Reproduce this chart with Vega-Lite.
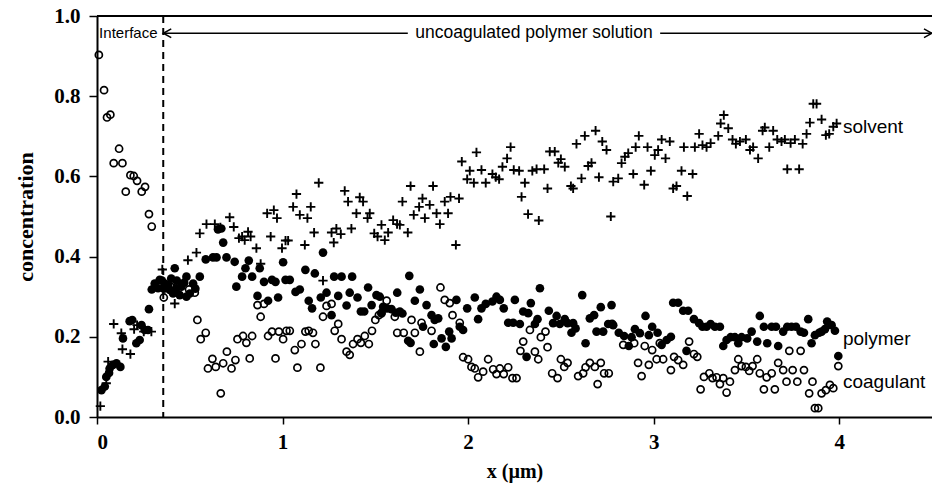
{
  "$schema": "https://vega.github.io/schema/vega-lite/v6.json",
  "width": 835,
  "height": 401,
  "autosize": {"type": "none"},
  "padding": {"left": 97, "top": 16, "right": 0, "bottom": 73},
  "background": "white",
  "config": {
    "view": {"stroke": null},
    "axis": {
      "grid": false,
      "domainColor": "black",
      "domainWidth": 2,
      "tickColor": "black",
      "tickWidth": 1.5,
      "labelColor": "black",
      "titleColor": "black"
    }
  },
  "datasets": {
    "profiles": [
      {"series": "coagulant", "x": 0.01, "y": 0.903}, {"series": "coagulant", "x": 0.038, "y": 0.815}, {"series": "coagulant", "x": 0.054, "y": 0.747}, {"series": "coagulant", "x": 0.072, "y": 0.754},
      {"series": "coagulant", "x": 0.119, "y": 0.669}, {"series": "coagulant", "x": 0.09, "y": 0.633}, {"series": "coagulant", "x": 0.137, "y": 0.633}, {"series": "coagulant", "x": 0.18, "y": 0.603},
      {"series": "coagulant", "x": 0.198, "y": 0.601}, {"series": "coagulant", "x": 0.216, "y": 0.589}, {"series": "coagulant", "x": 0.155, "y": 0.562}, {"series": "coagulant", "x": 0.241, "y": 0.562},
      {"series": "coagulant", "x": 0.259, "y": 0.574}, {"series": "coagulant", "x": 0.28, "y": 0.506}, {"series": "coagulant", "x": 0.295, "y": 0.475}, {"series": "coagulant", "x": 0.36, "y": 0.298},
      {"series": "coagulant", "x": 0.397, "y": 0.325}, {"series": "coagulant", "x": 0.431, "y": 0.325}, {"series": "coagulant", "x": 0.496, "y": 0.318}, {"series": "coagulant", "x": 0.527, "y": 0.31},
      {"series": "coagulant", "x": 0.541, "y": 0.242}, {"series": "coagulant", "x": 0.586, "y": 0.21}, {"series": "coagulant", "x": 0.559, "y": 0.194}, {"series": "coagulant", "x": 0.7, "y": 0.163},
      {"series": "coagulant", "x": 0.622, "y": 0.145}, {"series": "coagulant", "x": 0.598, "y": 0.121}, {"series": "coagulant", "x": 0.64, "y": 0.125}, {"series": "coagulant", "x": 0.68, "y": 0.134},
      {"series": "coagulant", "x": 0.725, "y": 0.121}, {"series": "coagulant", "x": 0.746, "y": 0.142}, {"series": "coagulant", "x": 0.667, "y": 0.059}, {"series": "coagulant", "x": 0.757, "y": 0.194},
      {"series": "coagulant", "x": 0.865, "y": 0.279}, {"series": "coagulant", "x": 0.9, "y": 0.282}, {"series": "coagulant", "x": 0.882, "y": 0.25}, {"series": "coagulant", "x": 0.823, "y": 0.146},
      {"series": "coagulant", "x": 0.962, "y": 0.146}, {"series": "coagulant", "x": 0.787, "y": 0.202}, {"series": "coagulant", "x": 0.805, "y": 0.185}, {"series": "coagulant", "x": 0.836, "y": 0.202},
      {"series": "coagulant", "x": 0.922, "y": 0.202}, {"series": "coagulant", "x": 0.943, "y": 0.213}, {"series": "coagulant", "x": 0.98, "y": 0.213}, {"series": "coagulant", "x": 1.003, "y": 0.194},
      {"series": "coagulant", "x": 1.021, "y": 0.215}, {"series": "coagulant", "x": 1.039, "y": 0.215}, {"series": "coagulant", "x": 1.066, "y": 0.167}, {"series": "coagulant", "x": 1.102, "y": 0.182},
      {"series": "coagulant", "x": 1.123, "y": 0.213}, {"series": "coagulant", "x": 1.141, "y": 0.215}, {"series": "coagulant", "x": 1.164, "y": 0.21}, {"series": "coagulant", "x": 1.177, "y": 0.182},
      {"series": "coagulant", "x": 1.08, "y": 0.123}, {"series": "coagulant", "x": 1.204, "y": 0.123}, {"series": "coagulant", "x": 1.237, "y": 0.277}, {"series": "coagulant", "x": 1.264, "y": 0.282},
      {"series": "coagulant", "x": 1.218, "y": 0.25}, {"series": "coagulant", "x": 1.3, "y": 0.232}, {"series": "coagulant", "x": 1.281, "y": 0.215}, {"series": "coagulant", "x": 1.318, "y": 0.194},
      {"series": "coagulant", "x": 1.345, "y": 0.163}, {"series": "coagulant", "x": 1.362, "y": 0.155}, {"series": "coagulant", "x": 1.38, "y": 0.182}, {"series": "coagulant", "x": 1.404, "y": 0.194},
      {"series": "coagulant", "x": 1.422, "y": 0.185}, {"series": "coagulant", "x": 1.443, "y": 0.202}, {"series": "coagulant", "x": 1.465, "y": 0.182}, {"series": "coagulant", "x": 1.482, "y": 0.215},
      {"series": "coagulant", "x": 1.5, "y": 0.242}, {"series": "coagulant", "x": 1.519, "y": 0.254}, {"series": "coagulant", "x": 1.533, "y": 0.26}, {"series": "coagulant", "x": 1.561, "y": 0.29},
      {"series": "coagulant", "x": 1.605, "y": 0.25}, {"series": "coagulant", "x": 1.618, "y": 0.21}, {"series": "coagulant", "x": 1.653, "y": 0.21}, {"series": "coagulant", "x": 1.695, "y": 0.242},
      {"series": "coagulant", "x": 1.713, "y": 0.21}, {"series": "coagulant", "x": 1.749, "y": 0.235}, {"series": "coagulant", "x": 1.803, "y": 0.215}, {"series": "coagulant", "x": 1.74, "y": 0.163},
      {"series": "coagulant", "x": 1.851, "y": 0.323}, {"series": "coagulant", "x": 1.874, "y": 0.292}, {"series": "coagulant", "x": 1.901, "y": 0.284}, {"series": "coagulant", "x": 1.916, "y": 0.254},
      {"series": "coagulant", "x": 1.955, "y": 0.235}, {"series": "coagulant", "x": 1.973, "y": 0.149}, {"series": "coagulant", "x": 2.0, "y": 0.144}, {"series": "coagulant", "x": 2.018, "y": 0.125},
      {"series": "coagulant", "x": 2.036, "y": 0.121}, {"series": "coagulant", "x": 2.054, "y": 0.099}, {"series": "coagulant", "x": 2.081, "y": 0.113}, {"series": "coagulant", "x": 2.108, "y": 0.144},
      {"series": "coagulant", "x": 2.135, "y": 0.119}, {"series": "coagulant", "x": 2.153, "y": 0.107}, {"series": "coagulant", "x": 2.171, "y": 0.121}, {"series": "coagulant", "x": 2.192, "y": 0.107},
      {"series": "coagulant", "x": 2.216, "y": 0.124}, {"series": "coagulant", "x": 2.239, "y": 0.097}, {"series": "coagulant", "x": 2.261, "y": 0.097}, {"series": "coagulant", "x": 2.297, "y": 0.188},
      {"series": "coagulant", "x": 2.282, "y": 0.165}, {"series": "coagulant", "x": 2.333, "y": 0.217}, {"series": "coagulant", "x": 2.392, "y": 0.199}, {"series": "coagulant", "x": 2.417, "y": 0.213},
      {"series": "coagulant", "x": 2.36, "y": 0.163}, {"series": "coagulant", "x": 2.378, "y": 0.144}, {"series": "coagulant", "x": 2.428, "y": 0.174}, {"series": "coagulant", "x": 2.453, "y": 0.109},
      {"series": "coagulant", "x": 2.482, "y": 0.097}, {"series": "coagulant", "x": 2.5, "y": 0.144}, {"series": "coagulant", "x": 2.518, "y": 0.125}, {"series": "coagulant", "x": 2.536, "y": 0.135},
      {"series": "coagulant", "x": 2.593, "y": 0.102}, {"series": "coagulant", "x": 2.62, "y": 0.109}, {"series": "coagulant", "x": 2.633, "y": 0.124}, {"series": "coagulant", "x": 2.656, "y": 0.135},
      {"series": "coagulant", "x": 2.683, "y": 0.125}, {"series": "coagulant", "x": 2.715, "y": 0.135}, {"series": "coagulant", "x": 2.698, "y": 0.082}, {"series": "coagulant", "x": 2.733, "y": 0.109},
      {"series": "coagulant", "x": 2.758, "y": 0.109}, {"series": "coagulant", "x": 2.776, "y": 0.232}, {"series": "coagulant", "x": 2.836, "y": 0.18}, {"series": "coagulant", "x": 2.895, "y": 0.184},
      {"series": "coagulant", "x": 2.916, "y": 0.135}, {"series": "coagulant", "x": 2.935, "y": 0.102}, {"series": "coagulant", "x": 2.952, "y": 0.177}, {"series": "coagulant", "x": 2.974, "y": 0.13},
      {"series": "coagulant", "x": 2.992, "y": 0.167}, {"series": "coagulant", "x": 3.016, "y": 0.144}, {"series": "coagulant", "x": 3.033, "y": 0.184}, {"series": "coagulant", "x": 3.051, "y": 0.144},
      {"series": "coagulant", "x": 3.093, "y": 0.117}, {"series": "coagulant", "x": 3.11, "y": 0.15}, {"series": "coagulant", "x": 3.132, "y": 0.142}, {"series": "coagulant", "x": 3.159, "y": 0.13},
      {"series": "coagulant", "x": 3.191, "y": 0.188}, {"series": "coagulant", "x": 3.217, "y": 0.157}, {"series": "coagulant", "x": 3.235, "y": 0.15}, {"series": "coagulant", "x": 3.253, "y": 0.069},
      {"series": "coagulant", "x": 3.271, "y": 0.1}, {"series": "coagulant", "x": 3.3, "y": 0.109}, {"series": "coagulant", "x": 3.317, "y": 0.097}, {"series": "coagulant", "x": 3.339, "y": 0.099},
      {"series": "coagulant", "x": 3.357, "y": 0.082}, {"series": "coagulant", "x": 3.375, "y": 0.097}, {"series": "coagulant", "x": 3.393, "y": 0.061}, {"series": "coagulant", "x": 3.411, "y": 0.088},
      {"series": "coagulant", "x": 3.438, "y": 0.117}, {"series": "coagulant", "x": 3.456, "y": 0.144}, {"series": "coagulant", "x": 3.474, "y": 0.127}, {"series": "coagulant", "x": 3.497, "y": 0.125},
      {"series": "coagulant", "x": 3.515, "y": 0.115}, {"series": "coagulant", "x": 3.533, "y": 0.127}, {"series": "coagulant", "x": 3.558, "y": 0.144}, {"series": "coagulant", "x": 3.572, "y": 0.109},
      {"series": "coagulant", "x": 3.594, "y": 0.069}, {"series": "coagulant", "x": 3.609, "y": 0.099}, {"series": "coagulant", "x": 3.636, "y": 0.109}, {"series": "coagulant", "x": 3.653, "y": 0.069},
      {"series": "coagulant", "x": 3.671, "y": 0.135}, {"series": "coagulant", "x": 3.698, "y": 0.117}, {"series": "coagulant", "x": 3.716, "y": 0.088}, {"series": "coagulant", "x": 3.731, "y": 0.165},
      {"series": "coagulant", "x": 3.749, "y": 0.117}, {"series": "coagulant", "x": 3.774, "y": 0.088}, {"series": "coagulant", "x": 3.792, "y": 0.165}, {"series": "coagulant", "x": 3.81, "y": 0.117},
      {"series": "coagulant", "x": 3.838, "y": 0.059}, {"series": "coagulant", "x": 3.856, "y": 0.088}, {"series": "coagulant", "x": 3.869, "y": 0.022}, {"series": "coagulant", "x": 3.887, "y": 0.022},
      {"series": "coagulant", "x": 3.905, "y": 0.059}, {"series": "coagulant", "x": 3.928, "y": 0.067}, {"series": "coagulant", "x": 3.95, "y": 0.08}, {"series": "coagulant", "x": 3.968, "y": 0.072},
      {"series": "coagulant", "x": 3.995, "y": 0.127},

      {"series": "polymer", "x": 0.024, "y": 0.067}, {"series": "polymer", "x": 0.042, "y": 0.076}, {"series": "polymer", "x": 0.05, "y": 0.1}, {"series": "polymer", "x": 0.065, "y": 0.11},
      {"series": "polymer", "x": 0.068, "y": 0.121}, {"series": "polymer", "x": 0.086, "y": 0.13}, {"series": "polymer", "x": 0.105, "y": 0.134}, {"series": "polymer", "x": 0.126, "y": 0.125},
      {"series": "polymer", "x": 0.14, "y": 0.196}, {"series": "polymer", "x": 0.176, "y": 0.239}, {"series": "polymer", "x": 0.19, "y": 0.242}, {"series": "polymer", "x": 0.212, "y": 0.184},
      {"series": "polymer", "x": 0.23, "y": 0.192}, {"series": "polymer", "x": 0.24, "y": 0.229}, {"series": "polymer", "x": 0.257, "y": 0.217}, {"series": "polymer", "x": 0.275, "y": 0.217},
      {"series": "polymer", "x": 0.28, "y": 0.269}, {"series": "polymer", "x": 0.295, "y": 0.318}, {"series": "polymer", "x": 0.311, "y": 0.333}, {"series": "polymer", "x": 0.338, "y": 0.342},
      {"series": "polymer", "x": 0.329, "y": 0.321}, {"series": "polymer", "x": 0.365, "y": 0.333}, {"series": "polymer", "x": 0.383, "y": 0.329}, {"series": "polymer", "x": 0.419, "y": 0.371},
      {"series": "polymer", "x": 0.392, "y": 0.317}, {"series": "polymer", "x": 0.428, "y": 0.321}, {"series": "polymer", "x": 0.455, "y": 0.325}, {"series": "polymer", "x": 0.482, "y": 0.35},
      {"series": "polymer", "x": 0.5, "y": 0.308}, {"series": "polymer", "x": 0.518, "y": 0.333}, {"series": "polymer", "x": 0.554, "y": 0.35}, {"series": "polymer", "x": 0.41, "y": 0.308},
      {"series": "polymer", "x": 0.446, "y": 0.304}, {"series": "polymer", "x": 0.482, "y": 0.3}, {"series": "polymer", "x": 0.35, "y": 0.34}, {"series": "polymer", "x": 0.4, "y": 0.345},
      {"series": "polymer", "x": 0.47, "y": 0.335}, {"series": "polymer", "x": 0.53, "y": 0.32}, {"series": "polymer", "x": 0.43, "y": 0.34}, {"series": "polymer", "x": 0.36, "y": 0.32},
      {"series": "polymer", "x": 0.586, "y": 0.393}, {"series": "polymer", "x": 0.625, "y": 0.398}, {"series": "polymer", "x": 0.644, "y": 0.398}, {"series": "polymer", "x": 0.652, "y": 0.468},
      {"series": "polymer", "x": 0.67, "y": 0.47}, {"series": "polymer", "x": 0.68, "y": 0.435}, {"series": "polymer", "x": 0.698, "y": 0.398}, {"series": "polymer", "x": 0.742, "y": 0.387},
      {"series": "polymer", "x": 0.751, "y": 0.325}, {"series": "polymer", "x": 0.818, "y": 0.39}, {"series": "polymer", "x": 0.8, "y": 0.371}, {"series": "polymer", "x": 0.782, "y": 0.35},
      {"series": "polymer", "x": 0.836, "y": 0.35}, {"series": "polymer", "x": 0.877, "y": 0.371}, {"series": "polymer", "x": 0.9, "y": 0.337}, {"series": "polymer", "x": 0.943, "y": 0.342},
      {"series": "polymer", "x": 0.962, "y": 0.337}, {"series": "polymer", "x": 1.003, "y": 0.386}, {"series": "polymer", "x": 0.865, "y": 0.302}, {"series": "polymer", "x": 0.922, "y": 0.29},
      {"series": "polymer", "x": 0.976, "y": 0.298}, {"series": "polymer", "x": 1.016, "y": 0.342}, {"series": "polymer", "x": 1.039, "y": 0.342}, {"series": "polymer", "x": 1.07, "y": 0.312},
      {"series": "polymer", "x": 1.093, "y": 0.318}, {"series": "polymer", "x": 1.123, "y": 0.367}, {"series": "polymer", "x": 1.174, "y": 0.358}, {"series": "polymer", "x": 1.218, "y": 0.41},
      {"series": "polymer", "x": 1.141, "y": 0.29}, {"series": "polymer", "x": 1.159, "y": 0.271}, {"series": "polymer", "x": 1.206, "y": 0.298}, {"series": "polymer", "x": 1.237, "y": 0.31},
      {"series": "polymer", "x": 1.264, "y": 0.254}, {"series": "polymer", "x": 1.278, "y": 0.35}, {"series": "polymer", "x": 1.318, "y": 0.35}, {"series": "polymer", "x": 1.3, "y": 0.302},
      {"series": "polymer", "x": 1.345, "y": 0.278}, {"series": "polymer", "x": 1.362, "y": 0.31}, {"series": "polymer", "x": 1.404, "y": 0.298}, {"series": "polymer", "x": 1.375, "y": 0.35},
      {"series": "polymer", "x": 1.422, "y": 0.263}, {"series": "polymer", "x": 1.44, "y": 0.263}, {"series": "polymer", "x": 1.461, "y": 0.323}, {"series": "polymer", "x": 1.48, "y": 0.279},
      {"series": "polymer", "x": 1.506, "y": 0.304}, {"series": "polymer", "x": 1.524, "y": 0.3}, {"series": "polymer", "x": 1.542, "y": 0.275}, {"series": "polymer", "x": 1.563, "y": 0.271},
      {"series": "polymer", "x": 1.587, "y": 0.269}, {"series": "polymer", "x": 1.61, "y": 0.26}, {"series": "polymer", "x": 1.632, "y": 0.263}, {"series": "polymer", "x": 1.646, "y": 0.258},
      {"series": "polymer", "x": 1.533, "y": 0.258}, {"series": "polymer", "x": 1.618, "y": 0.31}, {"series": "polymer", "x": 1.683, "y": 0.352}, {"series": "polymer", "x": 1.713, "y": 0.29},
      {"series": "polymer", "x": 1.74, "y": 0.318}, {"series": "polymer", "x": 1.776, "y": 0.279}, {"series": "polymer", "x": 1.69, "y": 0.185}, {"series": "polymer", "x": 1.677, "y": 0.19},
      {"series": "polymer", "x": 1.757, "y": 0.225}, {"series": "polymer", "x": 1.803, "y": 0.254}, {"series": "polymer", "x": 1.82, "y": 0.242}, {"series": "polymer", "x": 1.839, "y": 0.246},
      {"series": "polymer", "x": 1.815, "y": 0.182}, {"series": "polymer", "x": 1.857, "y": 0.196}, {"series": "polymer", "x": 1.88, "y": 0.175}, {"series": "polymer", "x": 1.898, "y": 0.213},
      {"series": "polymer", "x": 1.911, "y": 0.196}, {"series": "polymer", "x": 1.937, "y": 0.292}, {"series": "polymer", "x": 1.955, "y": 0.225}, {"series": "polymer", "x": 1.973, "y": 0.217},
      {"series": "polymer", "x": 1.995, "y": 0.271}, {"series": "polymer", "x": 2.036, "y": 0.298}, {"series": "polymer", "x": 2.054, "y": 0.244}, {"series": "polymer", "x": 2.072, "y": 0.271},
      {"series": "polymer", "x": 2.095, "y": 0.282}, {"series": "polymer", "x": 2.131, "y": 0.288}, {"series": "polymer", "x": 2.153, "y": 0.3}, {"series": "polymer", "x": 2.171, "y": 0.292},
      {"series": "polymer", "x": 2.192, "y": 0.271}, {"series": "polymer", "x": 2.216, "y": 0.235}, {"series": "polymer", "x": 2.243, "y": 0.235}, {"series": "polymer", "x": 2.279, "y": 0.232},
      {"series": "polymer", "x": 2.252, "y": 0.292}, {"series": "polymer", "x": 2.297, "y": 0.263}, {"series": "polymer", "x": 2.315, "y": 0.15}, {"series": "polymer", "x": 2.338, "y": 0.284},
      {"series": "polymer", "x": 2.387, "y": 0.321}, {"series": "polymer", "x": 2.324, "y": 0.259}, {"series": "polymer", "x": 2.374, "y": 0.244}, {"series": "polymer", "x": 2.36, "y": 0.232},
      {"series": "polymer", "x": 2.435, "y": 0.265}, {"series": "polymer", "x": 2.477, "y": 0.252}, {"series": "polymer", "x": 2.458, "y": 0.234}, {"series": "polymer", "x": 2.494, "y": 0.232},
      {"series": "polymer", "x": 2.521, "y": 0.244}, {"series": "polymer", "x": 2.536, "y": 0.234}, {"series": "polymer", "x": 2.566, "y": 0.234}, {"series": "polymer", "x": 2.579, "y": 0.221},
      {"series": "polymer", "x": 2.557, "y": 0.21}, {"series": "polymer", "x": 2.615, "y": 0.304}, {"series": "polymer", "x": 2.656, "y": 0.246}, {"series": "polymer", "x": 2.679, "y": 0.254},
      {"series": "polymer", "x": 2.715, "y": 0.274}, {"series": "polymer", "x": 2.633, "y": 0.184}, {"series": "polymer", "x": 2.692, "y": 0.213}, {"series": "polymer", "x": 2.728, "y": 0.213},
      {"series": "polymer", "x": 2.773, "y": 0.279}, {"series": "polymer", "x": 2.755, "y": 0.232}, {"series": "polymer", "x": 2.782, "y": 0.229}, {"series": "polymer", "x": 2.812, "y": 0.21},
      {"series": "polymer", "x": 2.841, "y": 0.202}, {"series": "polymer", "x": 2.866, "y": 0.177}, {"series": "polymer", "x": 2.881, "y": 0.199}, {"series": "polymer", "x": 2.899, "y": 0.219},
      {"series": "polymer", "x": 2.926, "y": 0.209}, {"series": "polymer", "x": 2.956, "y": 0.252}, {"series": "polymer", "x": 2.974, "y": 0.204}, {"series": "polymer", "x": 2.992, "y": 0.225},
      {"series": "polymer", "x": 3.021, "y": 0.21}, {"series": "polymer", "x": 3.043, "y": 0.18}, {"series": "polymer", "x": 3.07, "y": 0.192}, {"series": "polymer", "x": 3.093, "y": 0.2},
      {"series": "polymer", "x": 3.105, "y": 0.285}, {"series": "polymer", "x": 3.132, "y": 0.285}, {"series": "polymer", "x": 3.159, "y": 0.265}, {"series": "polymer", "x": 3.186, "y": 0.265},
      {"series": "polymer", "x": 3.217, "y": 0.244}, {"series": "polymer", "x": 3.245, "y": 0.234}, {"series": "polymer", "x": 3.263, "y": 0.225}, {"series": "polymer", "x": 3.285, "y": 0.225},
      {"series": "polymer", "x": 3.307, "y": 0.232}, {"series": "polymer", "x": 3.33, "y": 0.225}, {"series": "polymer", "x": 3.357, "y": 0.225}, {"series": "polymer", "x": 3.375, "y": 0.177},
      {"series": "polymer", "x": 3.393, "y": 0.192}, {"series": "polymer", "x": 3.415, "y": 0.199}, {"series": "polymer", "x": 3.438, "y": 0.199}, {"series": "polymer", "x": 3.456, "y": 0.184},
      {"series": "polymer", "x": 3.474, "y": 0.199}, {"series": "polymer", "x": 3.504, "y": 0.196}, {"series": "polymer", "x": 3.528, "y": 0.213}, {"series": "polymer", "x": 3.558, "y": 0.188},
      {"series": "polymer", "x": 3.572, "y": 0.252}, {"series": "polymer", "x": 3.594, "y": 0.225}, {"series": "polymer", "x": 3.612, "y": 0.184}, {"series": "polymer", "x": 3.636, "y": 0.225},
      {"series": "polymer", "x": 3.659, "y": 0.225}, {"series": "polymer", "x": 3.671, "y": 0.177}, {"series": "polymer", "x": 3.698, "y": 0.213}, {"series": "polymer", "x": 3.72, "y": 0.225},
      {"series": "polymer", "x": 3.743, "y": 0.225}, {"series": "polymer", "x": 3.767, "y": 0.225}, {"series": "polymer", "x": 3.792, "y": 0.213}, {"series": "polymer", "x": 3.81, "y": 0.21},
      {"series": "polymer", "x": 3.833, "y": 0.244}, {"series": "polymer", "x": 3.851, "y": 0.184}, {"series": "polymer", "x": 3.869, "y": 0.204}, {"series": "polymer", "x": 3.892, "y": 0.21},
      {"series": "polymer", "x": 3.177, "y": 0.165}, {"series": "polymer", "x": 3.905, "y": 0.213}, {"series": "polymer", "x": 3.923, "y": 0.219}, {"series": "polymer", "x": 3.935, "y": 0.238},
      {"series": "polymer", "x": 3.959, "y": 0.229}, {"series": "polymer", "x": 3.977, "y": 0.215}, {"series": "polymer", "x": 3.995, "y": 0.152},

      {"series": "solvent", "x": 0.018, "y": 0.027}, {"series": "solvent", "x": 0.05, "y": 0.084}, {"series": "solvent", "x": 0.06, "y": 0.138}, {"series": "solvent", "x": 0.09, "y": 0.232},
      {"series": "solvent", "x": 0.131, "y": 0.209}, {"series": "solvent", "x": 0.137, "y": 0.169}, {"series": "solvent", "x": 0.18, "y": 0.157}, {"series": "solvent", "x": 0.2, "y": 0.219},
      {"series": "solvent", "x": 0.216, "y": 0.229}, {"series": "solvent", "x": 0.252, "y": 0.213}, {"series": "solvent", "x": 0.293, "y": 0.213}, {"series": "solvent", "x": 0.352, "y": 0.368},
      {"series": "solvent", "x": 0.419, "y": 0.283}, {"series": "solvent", "x": 0.49, "y": 0.391}, {"series": "solvent", "x": 0.536, "y": 0.41}, {"series": "solvent", "x": 0.554, "y": 0.458},
      {"series": "solvent", "x": 0.59, "y": 0.481}, {"series": "solvent", "x": 0.635, "y": 0.481}, {"series": "solvent", "x": 0.665, "y": 0.473}, {"series": "solvent", "x": 0.715, "y": 0.498},
      {"series": "solvent", "x": 0.737, "y": 0.474}, {"series": "solvent", "x": 0.765, "y": 0.446}, {"series": "solvent", "x": 0.782, "y": 0.45}, {"series": "solvent", "x": 0.814, "y": 0.462},
      {"series": "solvent", "x": 0.828, "y": 0.45}, {"series": "solvent", "x": 0.796, "y": 0.441}, {"series": "solvent", "x": 0.859, "y": 0.421}, {"series": "solvent", "x": 0.882, "y": 0.382},
      {"series": "solvent", "x": 0.917, "y": 0.508}, {"series": "solvent", "x": 0.953, "y": 0.516}, {"series": "solvent", "x": 0.97, "y": 0.496}, {"series": "solvent", "x": 0.936, "y": 0.45},
      {"series": "solvent", "x": 0.997, "y": 0.421}, {"series": "solvent", "x": 1.016, "y": 0.44}, {"series": "solvent", "x": 1.03, "y": 0.44}, {"series": "solvent", "x": 1.057, "y": 0.524},
      {"series": "solvent", "x": 1.075, "y": 0.556}, {"series": "solvent", "x": 1.093, "y": 0.504}, {"series": "solvent", "x": 1.134, "y": 0.496}, {"series": "solvent", "x": 1.152, "y": 0.524},
      {"series": "solvent", "x": 1.12, "y": 0.429}, {"series": "solvent", "x": 1.17, "y": 0.46}, {"series": "solvent", "x": 1.195, "y": 0.584}, {"series": "solvent", "x": 1.218, "y": 0.34},
      {"series": "solvent", "x": 1.264, "y": 0.46}, {"series": "solvent", "x": 1.29, "y": 0.47}, {"series": "solvent", "x": 1.314, "y": 0.456}, {"series": "solvent", "x": 1.276, "y": 0.435},
      {"series": "solvent", "x": 1.335, "y": 0.564}, {"series": "solvent", "x": 1.353, "y": 0.537}, {"series": "solvent", "x": 1.371, "y": 0.47}, {"series": "solvent", "x": 1.398, "y": 0.508},
      {"series": "solvent", "x": 1.416, "y": 0.548}, {"series": "solvent", "x": 1.434, "y": 0.537}, {"series": "solvent", "x": 1.458, "y": 0.496}, {"series": "solvent", "x": 1.47, "y": 0.508},
      {"series": "solvent", "x": 1.494, "y": 0.458}, {"series": "solvent", "x": 1.512, "y": 0.45}, {"series": "solvent", "x": 1.533, "y": 0.479}, {"series": "solvent", "x": 1.551, "y": 0.441},
      {"series": "solvent", "x": 1.569, "y": 0.46}, {"series": "solvent", "x": 1.596, "y": 0.491}, {"series": "solvent", "x": 1.617, "y": 0.481}, {"series": "solvent", "x": 1.632, "y": 0.479},
      {"series": "solvent", "x": 1.646, "y": 0.537}, {"series": "solvent", "x": 1.69, "y": 0.576}, {"series": "solvent", "x": 1.675, "y": 0.46}, {"series": "solvent", "x": 1.707, "y": 0.504},
      {"series": "solvent", "x": 1.736, "y": 0.524}, {"series": "solvent", "x": 1.754, "y": 0.545}, {"series": "solvent", "x": 1.767, "y": 0.496}, {"series": "solvent", "x": 1.793, "y": 0.529},
      {"series": "solvent", "x": 1.811, "y": 0.576}, {"series": "solvent", "x": 1.83, "y": 0.508}, {"series": "solvent", "x": 1.848, "y": 0.481}, {"series": "solvent", "x": 1.874, "y": 0.537},
      {"series": "solvent", "x": 1.892, "y": 0.508}, {"series": "solvent", "x": 1.905, "y": 0.549}, {"series": "solvent", "x": 1.951, "y": 0.545}, {"series": "solvent", "x": 1.934, "y": 0.429},
      {"series": "solvent", "x": 1.966, "y": 0.637}, {"series": "solvent", "x": 1.995, "y": 0.593}, {"series": "solvent", "x": 2.009, "y": 0.614}, {"series": "solvent", "x": 2.031, "y": 0.584},
      {"series": "solvent", "x": 2.045, "y": 0.66}, {"series": "solvent", "x": 2.072, "y": 0.616}, {"series": "solvent", "x": 2.095, "y": 0.584}, {"series": "solvent", "x": 2.131, "y": 0.606},
      {"series": "solvent", "x": 2.149, "y": 0.598}, {"series": "solvent", "x": 2.167, "y": 0.593}, {"series": "solvent", "x": 2.185, "y": 0.624}, {"series": "solvent", "x": 2.21, "y": 0.645},
      {"series": "solvent", "x": 2.229, "y": 0.673}, {"series": "solvent", "x": 2.246, "y": 0.616}, {"series": "solvent", "x": 2.275, "y": 0.614}, {"series": "solvent", "x": 2.306, "y": 0.584},
      {"series": "solvent", "x": 2.288, "y": 0.549}, {"series": "solvent", "x": 2.323, "y": 0.506}, {"series": "solvent", "x": 2.381, "y": 0.49}, {"series": "solvent", "x": 2.346, "y": 0.614},
      {"series": "solvent", "x": 2.369, "y": 0.618}, {"series": "solvent", "x": 2.41, "y": 0.618}, {"series": "solvent", "x": 2.428, "y": 0.57}, {"series": "solvent", "x": 2.44, "y": 0.662},
      {"series": "solvent", "x": 2.467, "y": 0.662}, {"series": "solvent", "x": 2.486, "y": 0.634}, {"series": "solvent", "x": 2.5, "y": 0.643}, {"series": "solvent", "x": 2.521, "y": 0.624},
      {"series": "solvent", "x": 2.554, "y": 0.576}, {"series": "solvent", "x": 2.566, "y": 0.57}, {"series": "solvent", "x": 2.584, "y": 0.681}, {"series": "solvent", "x": 2.611, "y": 0.595},
      {"series": "solvent", "x": 2.629, "y": 0.701}, {"series": "solvent", "x": 2.647, "y": 0.626}, {"series": "solvent", "x": 2.665, "y": 0.634}, {"series": "solvent", "x": 2.687, "y": 0.714},
      {"series": "solvent", "x": 2.705, "y": 0.598}, {"series": "solvent", "x": 2.723, "y": 0.687}, {"series": "solvent", "x": 2.746, "y": 0.666}, {"series": "solvent", "x": 2.769, "y": 0.5},
      {"series": "solvent", "x": 2.782, "y": 0.587}, {"series": "solvent", "x": 2.809, "y": 0.595}, {"series": "solvent", "x": 2.827, "y": 0.633}, {"series": "solvent", "x": 2.845, "y": 0.649},
      {"series": "solvent", "x": 2.863, "y": 0.658}, {"series": "solvent", "x": 2.89, "y": 0.606}, {"series": "solvent", "x": 2.903, "y": 0.673}, {"series": "solvent", "x": 2.92, "y": 0.701},
      {"series": "solvent", "x": 2.949, "y": 0.579}, {"series": "solvent", "x": 2.967, "y": 0.673}, {"series": "solvent", "x": 2.985, "y": 0.614}, {"series": "solvent", "x": 3.006, "y": 0.653},
      {"series": "solvent", "x": 3.024, "y": 0.666}, {"series": "solvent", "x": 3.043, "y": 0.692}, {"series": "solvent", "x": 3.064, "y": 0.645}, {"series": "solvent", "x": 3.087, "y": 0.687},
      {"series": "solvent", "x": 3.105, "y": 0.57}, {"series": "solvent", "x": 3.123, "y": 0.576}, {"series": "solvent", "x": 3.15, "y": 0.614}, {"series": "solvent", "x": 3.181, "y": 0.551},
      {"series": "solvent", "x": 3.21, "y": 0.606}, {"series": "solvent", "x": 3.163, "y": 0.673}, {"series": "solvent", "x": 3.222, "y": 0.673}, {"series": "solvent", "x": 3.245, "y": 0.706},
      {"series": "solvent", "x": 3.263, "y": 0.678}, {"series": "solvent", "x": 3.285, "y": 0.673}, {"series": "solvent", "x": 3.307, "y": 0.683}, {"series": "solvent", "x": 3.348, "y": 0.701},
      {"series": "solvent", "x": 3.361, "y": 0.732}, {"series": "solvent", "x": 3.378, "y": 0.753}, {"series": "solvent", "x": 3.402, "y": 0.72}, {"series": "solvent", "x": 3.425, "y": 0.692},
      {"series": "solvent", "x": 3.443, "y": 0.681}, {"series": "solvent", "x": 3.465, "y": 0.687}, {"series": "solvent", "x": 3.497, "y": 0.692}, {"series": "solvent", "x": 3.519, "y": 0.666},
      {"series": "solvent", "x": 3.536, "y": 0.673}, {"series": "solvent", "x": 3.563, "y": 0.645}, {"series": "solvent", "x": 3.587, "y": 0.714}, {"series": "solvent", "x": 3.599, "y": 0.722},
      {"series": "solvent", "x": 3.623, "y": 0.673}, {"series": "solvent", "x": 3.644, "y": 0.714}, {"series": "solvent", "x": 3.666, "y": 0.692}, {"series": "solvent", "x": 3.689, "y": 0.687},
      {"series": "solvent", "x": 3.707, "y": 0.692}, {"series": "solvent", "x": 3.72, "y": 0.618}, {"series": "solvent", "x": 3.738, "y": 0.683}, {"series": "solvent", "x": 3.761, "y": 0.692},
      {"series": "solvent", "x": 3.784, "y": 0.618}, {"series": "solvent", "x": 3.803, "y": 0.681}, {"series": "solvent", "x": 3.824, "y": 0.706}, {"series": "solvent", "x": 3.842, "y": 0.734},
      {"series": "solvent", "x": 3.86, "y": 0.781}, {"series": "solvent", "x": 3.878, "y": 0.781}, {"series": "solvent", "x": 3.905, "y": 0.742}, {"series": "solvent", "x": 3.928, "y": 0.703},
      {"series": "solvent", "x": 3.946, "y": 0.706}, {"series": "solvent", "x": 3.968, "y": 0.724}, {"series": "solvent", "x": 3.986, "y": 0.732}
    ],
    "labels": [
      {"text": "solvent", "x": 4.02, "y": 0.724},
      {"text": "polymer", "x": 4.02, "y": 0.194},
      {"text": "coagulant", "x": 4.02, "y": 0.088}
    ],
    "arrowSegments": [
      {"x": 0.357, "x2": 1.675, "y": 0.957},
      {"x": 3.035, "x2": 4.5, "y": 0.957}
    ]
  },
  "layer": [
    {
      "data": {"values": [{"x": 0.357}]},
      "mark": {"type": "rule", "color": "black", "strokeWidth": 2, "strokeDash": [7, 5]},
      "encoding": {
        "x": {
          "field": "x", "type": "quantitative",
          "scale": {"domain": [0, 4.5], "nice": false, "zero": false},
          "axis": {
            "values": [0, 1, 2, 3, 4], "format": "d", "title": "x (µm)",
            "tickSize": 7, "labelPadding": 7, "titlePadding": 9,
            "labelFont": "Liberation Serif", "labelFontWeight": "bold", "labelFontSize": 21,
            "titleFont": "Liberation Serif", "titleFontWeight": "bold", "titleFontSize": 20
          }
        }
      }
    },
    {
      "data": {"values": [{"top": 1}]},
      "mark": {"type": "rule", "color": "black", "strokeWidth": 2},
      "encoding": {"y": {"field": "top", "type": "quantitative"}}
    },
    {
      "data": {"name": "profiles"},
      "transform": [{"filter": "datum.series === 'coagulant'"}],
      "mark": {"type": "point", "shape": "circle", "filled": false, "stroke": "black", "strokeWidth": 1.7, "size": 50, "opacity": 1},
      "encoding": {
        "x": {"field": "x", "type": "quantitative"},
        "y": {
          "field": "y", "type": "quantitative",
          "scale": {"domain": [0, 1], "nice": false},
          "axis": {
            "values": [0, 0.2, 0.4, 0.6, 0.8, 1.0], "format": ".1f", "title": "concentration",
            "tickSize": 8, "labelPadding": 9, "titlePadding": 16,
            "labelFont": "Liberation Serif", "labelFontWeight": "bold", "labelFontSize": 21,
            "titleFont": "Liberation Serif", "titleFontWeight": "bold", "titleFontSize": 22
          }
        }
      }
    },
    {
      "data": {"name": "profiles"},
      "transform": [{"filter": "datum.series === 'polymer'"}],
      "mark": {"type": "point", "shape": "circle", "filled": true, "fill": "black", "size": 75, "opacity": 1},
      "encoding": {
        "x": {"field": "x", "type": "quantitative"},
        "y": {"field": "y", "type": "quantitative"}
      }
    },
    {
      "data": {"name": "profiles"},
      "transform": [{"filter": "datum.series === 'solvent'"}],
      "mark": {"type": "point", "shape": "M-1,0H1M0,-1V1", "filled": false, "stroke": "black", "strokeWidth": 1.9, "size": 85, "opacity": 1},
      "encoding": {
        "x": {"field": "x", "type": "quantitative"},
        "y": {"field": "y", "type": "quantitative"}
      }
    },
    {
      "data": {"name": "arrowSegments"},
      "mark": {"type": "rule", "color": "black", "strokeWidth": 1.4},
      "encoding": {
        "x": {"field": "x", "type": "quantitative"},
        "x2": {"field": "x2"},
        "y": {"field": "y", "type": "quantitative"}
      }
    },
    {
      "data": {"values": [{"x": 0.357, "y": 0.957}]},
      "mark": {"type": "point", "shape": "M2,-1.1L0,0L2,1.1", "filled": false, "stroke": "black", "strokeWidth": 1.5, "size": 64, "opacity": 1},
      "encoding": {
        "x": {"field": "x", "type": "quantitative"},
        "y": {"field": "y", "type": "quantitative"}
      }
    },
    {
      "data": {"values": [{"x": 4.5, "y": 0.957}]},
      "mark": {"type": "point", "shape": "M-2,-1.1L0,0L-2,1.1", "filled": false, "stroke": "black", "strokeWidth": 1.5, "size": 64, "opacity": 1},
      "encoding": {
        "x": {"field": "x", "type": "quantitative"},
        "y": {"field": "y", "type": "quantitative"}
      }
    },
    {
      "data": {"values": [{"text": "Interface", "x": 0.326, "y": 0.957}]},
      "mark": {"type": "text", "align": "right", "baseline": "middle", "font": "Liberation Sans", "fontSize": 15, "color": "black"},
      "encoding": {
        "x": {"field": "x", "type": "quantitative"},
        "y": {"field": "y", "type": "quantitative"},
        "text": {"field": "text"}
      }
    },
    {
      "data": {"values": [{"text": "uncoagulated polymer solution", "x": 2.355, "y": 0.957}]},
      "mark": {"type": "text", "align": "center", "baseline": "middle", "font": "Liberation Sans", "fontSize": 17.5, "color": "black"},
      "encoding": {
        "x": {"field": "x", "type": "quantitative"},
        "y": {"field": "y", "type": "quantitative"},
        "text": {"field": "text"}
      }
    },
    {
      "data": {"name": "labels"},
      "mark": {"type": "text", "align": "left", "baseline": "middle", "font": "Liberation Sans", "fontSize": 19, "color": "black"},
      "encoding": {
        "x": {"field": "x", "type": "quantitative"},
        "y": {"field": "y", "type": "quantitative"},
        "text": {"field": "text"}
      }
    }
  ]
}
